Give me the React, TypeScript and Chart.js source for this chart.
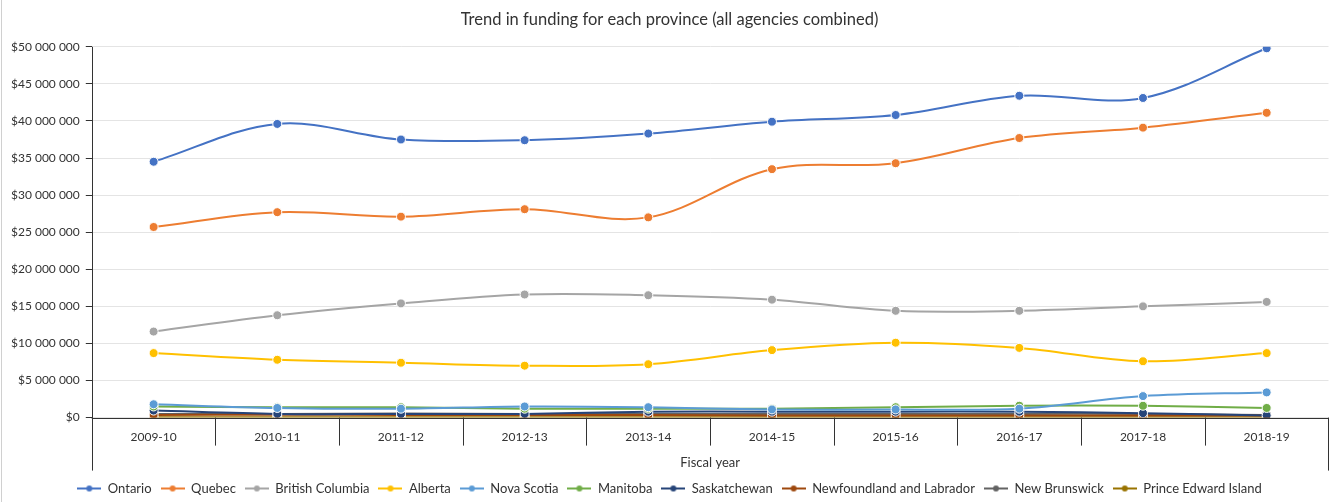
import React, { useEffect, useRef } from "react";
import { Chart, registerables } from "chart.js";

Chart.register(...registerables);

const categories = ["2009-10", "2010-11", "2011-12", "2012-13", "2013-14", "2014-15", "2015-16", "2016-17", "2017-18", "2018-19"];

const ontario = [34.5, 39.6, 37.5, 37.4, 38.3, 39.9, 40.8, 43.4, 43.1, 49.8];
const quebec = [25.7, 27.7, 27.1, 28.1, 27.0, 33.5, 34.3, 37.7, 39.1, 41.1];
const britishColumbia = [11.6, 13.8, 15.4, 16.6, 16.5, 15.9, 14.4, 14.4, 15.0, 15.6];
const alberta = [8.7, 7.8, 7.4, 7.0, 7.2, 9.1, 10.1, 9.4, 7.6, 8.7];
const novaScotia = [1.8, 1.3, 1.2, 1.5, 1.4, 1.1, 1.1, 1.2, 2.9, 3.4];
const manitoba = [1.5, 1.4, 1.4, 1.2, 1.2, 1.2, 1.4, 1.6, 1.6, 1.3];
const saskatchewan = [0.95, 0.5, 0.5, 0.5, 0.8, 0.8, 0.8, 0.8, 0.6, 0.3];
const newfoundland = [0.35, 0.4, 0.35, 0.35, 0.35, 0.3, 0.3, 0.3, 0.3, 0.3];
const newBrunswick = [0.5, 0.5, 0.55, 0.5, 0.5, 0.5, 0.5, 0.5, 0.5, 0.35];
const pei = [0.05, 0.05, 0.05, 0.05, 0.05, 0.05, 0.05, 0.05, 0.05, 0.05];

const seriesNames = ["Ontario", "Quebec", "British Columbia", "Alberta", "Nova Scotia", "Manitoba", "Saskatchewan", "Newfoundland and Labrador", "New Brunswick", "Prince Edward Island"];
const seriesValues = [ontario, quebec, britishColumbia, alberta, novaScotia, manitoba, saskatchewan, newfoundland, newBrunswick, pei];
const seriesColors = ["#4472C4", "#ED7D31", "#A5A5A5", "#FFC000", "#5B9BD5", "#70AD47", "#264478", "#9E480E", "#636363", "#997300"];

const yTickStep = 5000000;
const yMax = 50000000;

const FONT = "Lato, 'Open Sans', sans-serif";

function fmtMoney(v: number) {
  const s = Math.round(v).toString().replace(/\B(?=(\d{3})+(?!\d))/g, " ");
  return "$" + s;
}

function legendIcon(color: string) {
  const c = document.createElement("canvas");
  c.width = 24;
  c.height = 10;
  const ctx = c.getContext("2d")!;
  ctx.strokeStyle = color;
  ctx.lineWidth = 2;
  ctx.beginPath();
  ctx.moveTo(0, 5);
  ctx.lineTo(24, 5);
  ctx.stroke();
  ctx.fillStyle = color;
  ctx.beginPath();
  ctx.arc(12, 5, 3, 0, Math.PI * 2);
  ctx.fill();
  return c;
}

const axisDecor = {
  id: "axisDecor",
  afterDraw(chart: any) {
    const { ctx, chartArea, scales } = chart;
    const x = scales.x;
    const bottom = chartArea.bottom;
    ctx.save();
    ctx.strokeStyle = "#333";
    ctx.lineWidth = 1;
    const n = categories.length;
    const step = x.getPixelForValue(1) - x.getPixelForValue(0);
    for (let i = 1; i < n; i++) {
      const px = Math.round(x.getPixelForValue(i) - step / 2) + 0.5;
      ctx.beginPath();
      ctx.moveTo(px, bottom);
      ctx.lineTo(px, bottom + 28);
      ctx.stroke();
    }
    const lx = Math.round(chartArea.left) + 0.5;
    ctx.beginPath();
    ctx.moveTo(lx, chartArea.top);
    ctx.lineTo(lx, bottom + 53);
    ctx.stroke();
    const rx = Math.round(chartArea.right) - 0.5;
    ctx.beginPath();
    ctx.moveTo(rx, bottom);
    ctx.lineTo(rx, bottom + 53);
    ctx.stroke();
    ctx.beginPath();
    ctx.moveTo(chartArea.left, Math.round(bottom) + 0.5);
    ctx.lineTo(chartArea.right, Math.round(bottom) + 0.5);
    ctx.stroke();
    ctx.strokeStyle = "#d0d0d0";
    ctx.beginPath();
    ctx.moveTo(1.5, 0);
    ctx.lineTo(1.5, chart.height);
    ctx.stroke();
    ctx.restore();
  },
};

export default function App() {
  const ref = useRef<HTMLCanvasElement>(null);
  useEffect(() => {
    document.body.style.margin = "0";
    const icons = seriesColors.map(legendIcon);
    const chart = new Chart(ref.current!, {
      type: "line",
      data: {
        labels: categories,
        datasets: seriesNames.map((name, i) => ({
          label: name,
          data: seriesValues[i].map((v) => v * 1000000),
          borderColor: seriesColors[i],
          backgroundColor: seriesColors[i],
          borderWidth: 2,
          pointRadius: 4.5,
          pointBorderColor: "#ffffff",
          pointBorderWidth: 1,
          pointBackgroundColor: seriesColors[i],
          tension: 0.35,
          fill: false,
        })),
      },
      plugins: [axisDecor],
      options: {
        responsive: false,
        animation: false,
        maintainAspectRatio: false,
        layout: { padding: { left: 5, right: 0, top: 0, bottom: -3 } },
        plugins: {
          title: {
            display: true,
            text: "Trend in funding for each province (all agencies combined)",
            color: "#333",
            font: { family: FONT, size: 16.5, weight: "normal" },
            padding: { top: 10, bottom: 17 },
          },
          legend: {
            position: "bottom",
            labels: {
              usePointStyle: true,
              pointStyleWidth: 24,
              color: "#333",
              font: { family: FONT, size: 13 },
              padding: 9,
              generateLabels: (chart: any) => {
                const items = Chart.defaults.plugins.legend.labels.generateLabels(chart);
                return items.map((it: any, i: number) => ({ ...it, pointStyle: icons[i] }));
              },
            },
          },
          tooltip: { enabled: false },
        },
        scales: {
          x: {
            offset: true,
            grid: { display: false, drawTicks: false },
            border: { display: false },
            ticks: { color: "#333", font: { family: FONT, size: 12 }, padding: 12 },
            title: {
              display: true,
              text: "Fiscal year",
              color: "#333",
              font: { family: FONT, size: 13, lineHeight: 1 },
              padding: { top: 0, bottom: 4 },
            },
          },
          y: {
            min: 0,
            max: yMax,
            grid: { color: "#e4e4e4", tickLength: 6, tickColor: "#333" },
            border: { display: false },
            ticks: {
              stepSize: yTickStep,
              color: "#333",
              font: { family: FONT, size: 12 },
              padding: 6,
              callback: (v: any) => fmtMoney(Number(v)),
            },
          },
        },
      },
    });
    return () => chart.destroy();
  }, []);
  return <canvas ref={ref} width={1334} height={502} style={{ display: "block" }} />;
}
